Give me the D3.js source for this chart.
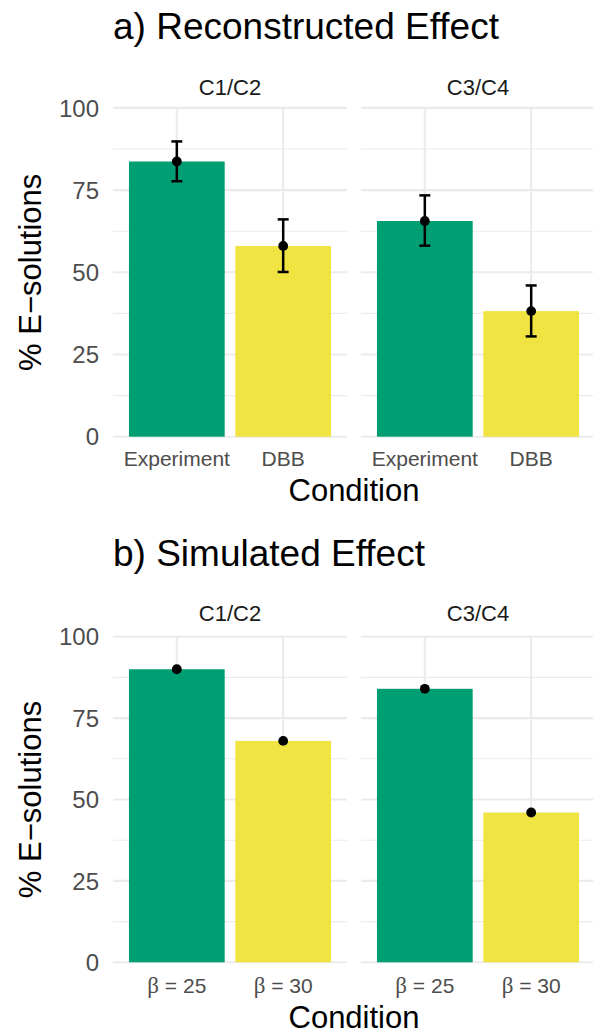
<!DOCTYPE html>
<html>
<head>
<meta charset="utf-8">
<script src="https://cdn.jsdelivr.net/npm/d3@7"></script>
<style>
  html, body { margin: 0; padding: 0; background: #fff; }
  svg { display: block; font-family: "Liberation Sans", Arial, sans-serif; }
</style>
</head>
<body>
<svg id="chart" width="593" height="1036"></svg>
<script>
// ---------- data ----------
const facets = ["C1/C2", "C3/C4"];
const yTicks = [0, 25, 50, 75, 100];
const yMinor = [12.5, 37.5, 62.5, 87.5];

// a) Reconstructed effect
const reconFacet = ["C1/C2", "C1/C2", "C3/C4", "C3/C4"];
const reconCond  = ["Experiment", "DBB", "Experiment", "DBB"];
const reconMean  = [83.7, 58.0, 65.6, 38.2];
const reconLow   = [77.7, 50.1, 58.1, 30.5];
const reconHigh  = [89.8, 66.1, 73.4, 46.0];

// b) Simulated effect
const simFacet = ["C1/C2", "C1/C2", "C3/C4", "C3/C4"];
const simCond  = ["b25", "b30", "b25", "b30"];
const simBeta  = ["25", "30", "25", "30"];
const simMean  = [90, 68, 84, 46];

const condColor = { "Experiment": "#009E73", "DBB": "#F0E442", "b25": "#009E73", "b30": "#F0E442" };

// ---------- layout ----------
const svg = d3.select("#chart");
const facetX = [[113, 347], [361, 595]];

function drawPanel(cfg) {
  const g = svg.append("g");
  const y = d3.scaleLinear().domain([0, 100]).range([cfg.y0, cfg.y100]);

  // title
  g.append("text").attr("x", 113).attr("y", cfg.titleY)
    .attr("font-size", 37).attr("fill", "#000").text(cfg.title);

  // y axis title
  g.append("text")
    .attr("transform", `translate(41,${(cfg.y0 + cfg.y100) / 2}) rotate(-90)`)
    .attr("text-anchor", "middle").attr("font-size", 31).attr("fill", "#000")
    .text("% E\u2212solutions");

  // x axis title
  g.append("text").attr("x", (facetX[0][0] + facetX[1][1]) / 2).attr("y", cfg.xTitleY)
    .attr("text-anchor", "middle").attr("font-size", 31).attr("fill", "#000")
    .text("Condition");

  // y tick labels
  g.selectAll(".ytl").data(yTicks).enter().append("text")
    .attr("x", 99).attr("y", d => y(d)).attr("dy", "0.36em")
    .attr("text-anchor", "end").attr("font-size", 24).attr("fill", "#4D4D4D")
    .text(d => d);

  facets.forEach((f, fi) => {
    const [x0, x1] = facetX[fi];
    const idx = cfg.facet.map((d, i) => i).filter(i => cfg.facet[i] === f);
    const x = d3.scaleBand().domain(idx.map(i => cfg.cond[i])).range([x0, x1])
      .paddingInner(0.1).paddingOuter(0.15);

    // minor grid
    g.selectAll(null).data(yMinor).enter().append("line")
      .attr("x1", x0).attr("x2", x1).attr("y1", d => y(d)).attr("y2", d => y(d))
      .attr("stroke", "#EBEBEB").attr("stroke-width", 1.1);
    // major grid
    g.selectAll(null).data(yTicks).enter().append("line")
      .attr("x1", x0).attr("x2", x1).attr("y1", d => y(d)).attr("y2", d => y(d))
      .attr("stroke", "#EBEBEB").attr("stroke-width", 2.1);
    g.selectAll(null).data(x.domain()).enter().append("line")
      .attr("x1", d => x(d) + x.bandwidth() / 2).attr("x2", d => x(d) + x.bandwidth() / 2)
      .attr("y1", y(0)).attr("y2", y(100))
      .attr("stroke", "#EBEBEB").attr("stroke-width", 2.1);

    // strip text
    g.append("text").attr("x", (x0 + x1) / 2).attr("y", cfg.stripY)
      .attr("text-anchor", "middle").attr("font-size", 22).attr("fill", "#1A1A1A").text(f);

    // bars
    g.selectAll(null).data(idx).enter().append("rect")
      .attr("x", i => x(cfg.cond[i])).attr("width", x.bandwidth())
      .attr("y", i => y(cfg.mean[i])).attr("height", i => y(0) - y(cfg.mean[i]))
      .attr("fill", i => condColor[cfg.cond[i]]);

    // error bars
    if (cfg.low) {
      const cx = i => x(cfg.cond[i]) + x.bandwidth() / 2;
      g.selectAll(null).data(idx).enter().append("line")
        .attr("x1", cx).attr("x2", cx).attr("y1", i => y(cfg.low[i])).attr("y2", i => y(cfg.high[i]))
        .attr("stroke", "#000").attr("stroke-width", 2.5);
      ["low", "high"].forEach(k => {
        g.selectAll(null).data(idx).enter().append("line")
          .attr("x1", i => cx(i) - 5.5).attr("x2", i => cx(i) + 5.5)
          .attr("y1", i => y(cfg[k][i])).attr("y2", i => y(cfg[k][i]))
          .attr("stroke", "#000").attr("stroke-width", 2.5);
      });
    }

    // points
    g.selectAll(null).data(idx).enter().append("circle")
      .attr("cx", i => x(cfg.cond[i]) + x.bandwidth() / 2).attr("cy", i => y(cfg.mean[i]))
      .attr("r", 4.9).attr("fill", "#000");

    // x tick labels
    const xl = g.selectAll(null).data(idx).enter().append("text")
      .attr("x", i => x(cfg.cond[i]) + x.bandwidth() / 2).attr("y", cfg.xLabY)
      .attr("text-anchor", "middle").attr("font-size", 21).attr("fill", "#4D4D4D");
    if (cfg.beta) {
      xl.each(function (i) {
        const t = d3.select(this);
        t.append("tspan").attr("font-family", "'Liberation Serif', 'DejaVu Serif', serif")
          .attr("font-size", 23).text("\u03B2");
        t.append("tspan").text(" = " + cfg.beta[i]);
      });
    } else {
      xl.text(i => cfg.cond[i]);
    }
  });
}

drawPanel({
  title: "a) Reconstructed Effect", titleY: 39, stripY: 95,
  y0: 436.7, y100: 107.9, xLabY: 466, xTitleY: 501,
  facet: reconFacet, cond: reconCond, mean: reconMean, low: reconLow, high: reconHigh
});
drawPanel({
  title: "b) Simulated Effect", titleY: 566, stripY: 621,
  y0: 962.3, y100: 636.7, xLabY: 993, xTitleY: 1028,
  facet: simFacet, cond: simCond, mean: simMean, beta: simBeta
});
</script>
</body>
</html>
